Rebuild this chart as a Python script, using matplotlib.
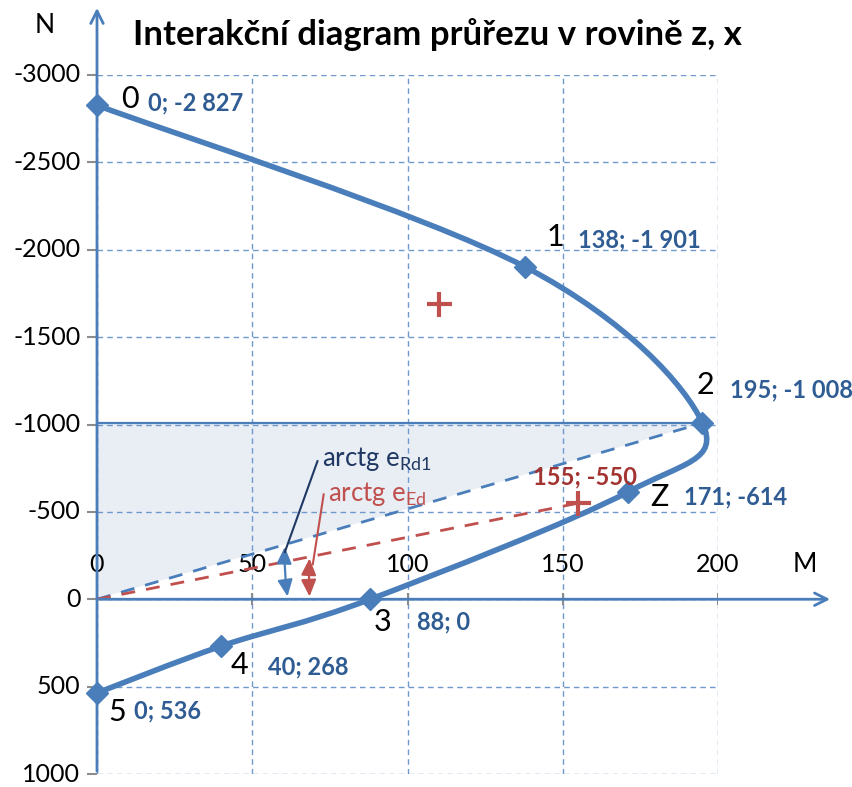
import numpy as np
import matplotlib
matplotlib.use("Agg")
import matplotlib.pyplot as plt
from matplotlib.path import Path
from matplotlib.patches import PathPatch, Polygon

plt.rcParams['font.family'] = ['Lato', 'DejaVu Sans']

# body oblouku interakčního diagramu (M [kNm]; N [kN], tlak záporný)
bod_nazvy = ['0', '1', '2', 'Z', '3', '4', '5']
bod_M = [0, 138, 195, 171, 88, 40, 0]
bod_N = [-2827, -1901, -1008, -614, 0, 268, 536]

# návrhová kombinace (M_Ed; N_Ed) a druhý kontrolovaný bod
ed_M, ed_N = 155, -550
bod2_M, bod2_N = 110, -1690

m_ticks = [0, 50, 100, 150, 200]
n_ticks = [-3000, -2500, -2000, -1500, -1000, -500, 0, 500, 1000]

MODRA = '#4A7EBB'
MODRA_TXT = '#2F5C93'
CERVENA = '#C0504D'
CERVENA_TXT = '#A23330'
SEDA = '#8C8C8C'

fig = plt.figure(figsize=(8.52, 7.87), dpi=100)
ax = fig.add_axes([97 / 852, 1 - 774 / 787, 621 / 852, 699 / 787])
ax.set_xlim(0, 200)
ax.set_ylim(1000, -3000)
for s in ax.spines.values():
    s.set_visible(False)

ax.set_xticks(m_ticks)
ax.set_yticks(n_ticks)
ax.grid(True, ls=(0, (4, 3)), color='#6F98CC', lw=1.0)
ax.tick_params(axis='x', which='both', length=0, labelbottom=False)
ax.tick_params(axis='y', direction='out', length=7, width=1.5, color=SEDA,
               labelsize=18, pad=5)
ax.set_yticklabels([str(v) for v in n_ticks])
for lbl in ax.get_yticklabels():
    lbl.set_verticalalignment('center')

# popisky osy M nad osou
for v in m_ticks:
    ax.text(v, -200, str(v), ha='center', va='center', fontsize=18)
    if v > 0:
        ax.plot([v, v], [-30, 30], color=SEDA, lw=1.5, zorder=3)

# šrafovaná oblast pod přímkou e_Rd1
ax.add_patch(Polygon([(0, 0), (0, bod_N[2]), (bod_M[2], bod_N[2])],
                     closed=True, fc='#E9EDF4', ec='none', zorder=1))
ax.plot([0, bod_M[2]], [bod_N[2], bod_N[2]], color=MODRA, lw=1.6, zorder=2)

# přímky excentricity
ax.plot([0, bod_M[2]], [0, bod_N[2]], color=MODRA, lw=2, ls=(0, (5, 4)), zorder=3)
ax.plot([0, ed_M], [0, ed_N], color=CERVENA, lw=2, ls=(0, (5, 4)), zorder=3)

# osy se šipkami
ax.annotate('', xy=(0, -3400), xytext=(0, 1000),
            arrowprops=dict(arrowstyle='->, head_length=0.9, head_width=0.45',
                            color=MODRA, lw=2), annotation_clip=False, zorder=4)
ax.annotate('', xy=(237, 0), xytext=(0, 0),
            arrowprops=dict(arrowstyle='->, head_length=0.9, head_width=0.45',
                            color=MODRA, lw=2), annotation_clip=False, zorder=4)
ax.text(-17, -3286, 'N', fontsize=19, ha='center', va='center', clip_on=False)
ax.text(228, -200, 'M', fontsize=19, ha='center', va='center', clip_on=False)

# vyhlazená čára oblouku (Bézierovy úseky Catmull-Rom)
P = np.column_stack([bod_M, bod_N]).astype(float)
verts = [P[0]]
codes = [Path.MOVETO]
for i in range(len(P) - 1):
    p0 = P[i - 1] if i > 0 else P[i]
    p3 = P[i + 2] if i + 2 < len(P) else P[i + 1]
    c1 = P[i] + (P[i + 1] - p0) / 6
    c2 = P[i + 1] - (p3 - P[i]) / 6
    verts += [c1, c2, P[i + 1]]
    codes += [Path.CURVE4] * 3
ax.add_patch(PathPatch(Path(verts, codes), fc='none', ec=MODRA, lw=4,
                       capstyle='round', zorder=5, clip_on=False))
ax.plot(bod_M, bod_N, ls='none', marker='D', ms=11, color=MODRA, zorder=6,
        clip_on=False)

# kontrolované body
ax.plot([bod2_M, ed_M], [bod2_N, ed_N], ls='none', marker='+', ms=18, mew=3,
        color=CERVENA, zorder=6)

# popisky bodů
popis_cislo = [(10.5, -2860), (147.5, -2073), (196, -1226), (181, -585),
               (92, 130), (46, 376), (6.4, 645)]
popis_hodnota = [(16.5, -2840), (155, -2056), (204, -1197), (189, -585),
                 (103, 130), (55, 385), (12, 640)]
for nm, m, n, (cx, cy), (hx, hy) in zip(bod_nazvy, bod_M, bod_N,
                                        popis_cislo, popis_hodnota):
    ax.text(cx, cy, nm, fontsize=22, ha='center', va='center', clip_on=False,
            zorder=7)
    ax.text(hx, hy, f'{m}; {n:,}'.replace(',', ' '),
            fontsize=17, fontweight='bold', color=MODRA_TXT, ha='left',
            va='center', clip_on=False, zorder=7)
ax.text(140.4, -700, f'{ed_M}; {ed_N}', fontsize=17, fontweight='bold',
        color=CERVENA_TXT, ha='left', va='center', zorder=7)

# úhly excentricit
ax.annotate('', xy=(61.5, 0), xytext=(60.5, -315),
            arrowprops=dict(arrowstyle='<|-|>, head_length=1.0, head_width=0.45',
                            color=MODRA, lw=1.6, connectionstyle='arc3,rad=0.05'),
            zorder=6)
ax.annotate('', xy=(68.5, 0), xytext=(68.5, -250),
            arrowprops=dict(arrowstyle='<|-|>, head_length=1.0, head_width=0.45',
                            color=CERVENA, lw=1.6, connectionstyle='arc3,rad=0.03'),
            zorder=6)
ax.plot([71, 60.5], [-790, -270], color='#1F3864', lw=1.5, zorder=6)
ax.plot([73, 69.5], [-600, -200], color=CERVENA, lw=1.5, zorder=6)
ax.text(72.5, -800, r'arctg e$_{\mathregular{Rd1}}$', fontsize=18.5, color='#1F3864',
        ha='left', va='center', zorder=7)
ax.text(74.5, -605, r'arctg e$_{\mathregular{Ed}}$', fontsize=18.5, color=CERVENA,
        ha='left', va='center', zorder=7)

fig.text(437 / 852, 1 - 35 / 787, 'Interakční diagram průřezu v rovině z, x',
         fontsize=25, fontweight='bold', ha='center', va='center')

fig.savefig('out.png', dpi=100)
